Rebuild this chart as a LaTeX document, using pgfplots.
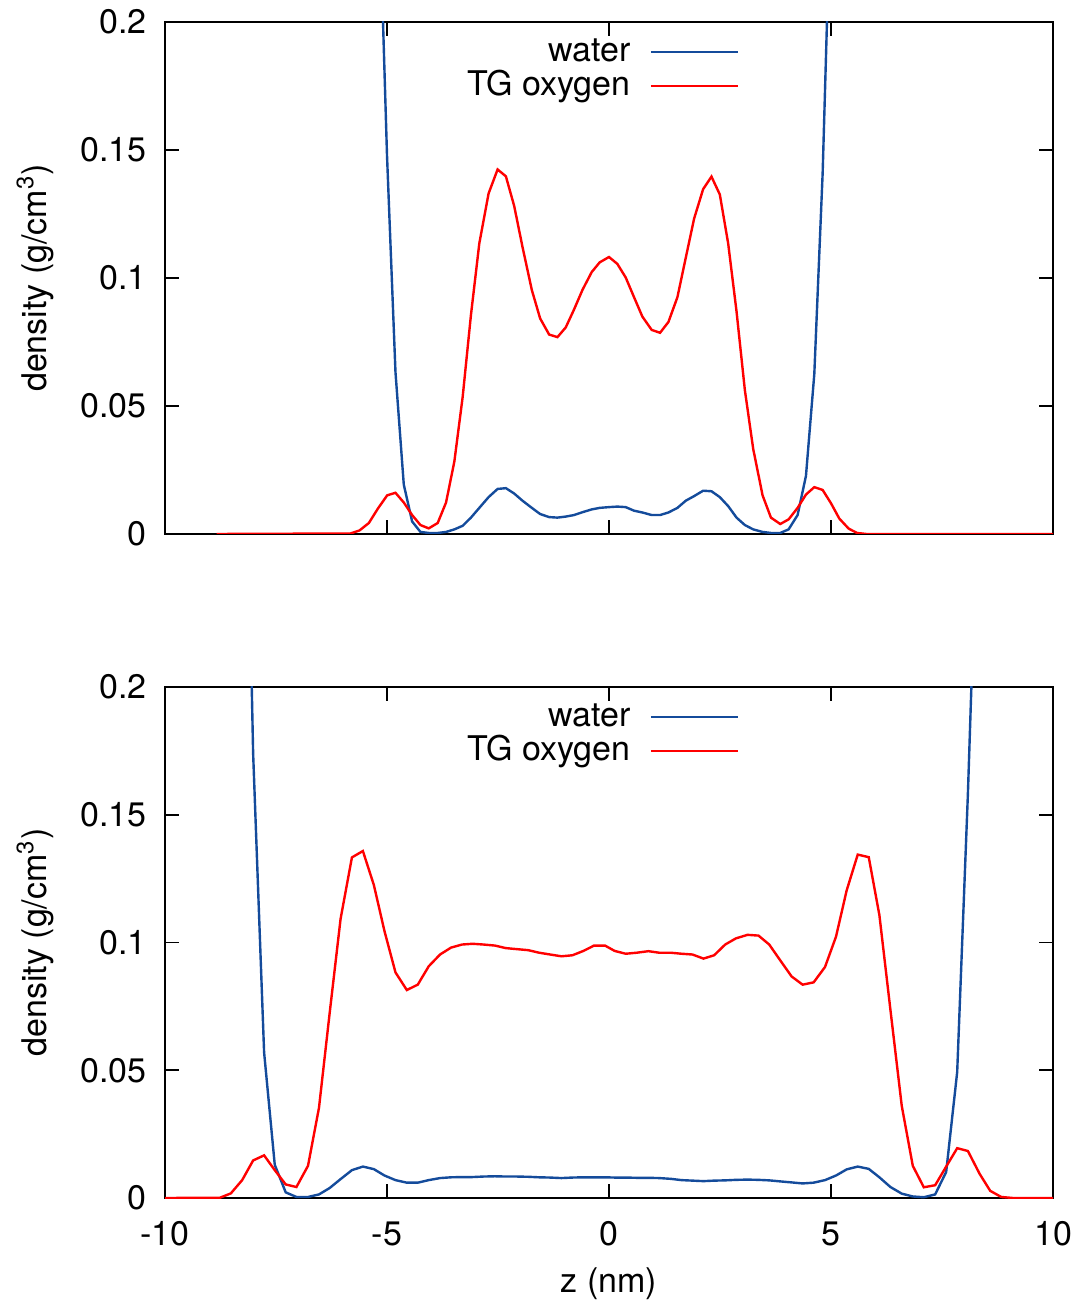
\documentclass[border=0pt]{standalone}
\usepackage{fontspec}
\setmainfont{TeX Gyre Heros}
\usepackage{pgfplots}
\usepackage{pgfplotstable}
\pgfplotsset{compat=1.18}
\definecolor{wblue}{RGB}{20,75,155}
\definecolor{tgred}{RGB}{255,0,0}

\pgfplotstableread{
x y
-8.84 0
-5.82 0.0002
-5.618 0.0014
-5.408 0.0043
-5.206 0.0099
-4.996 0.0151
-4.809 0.0161
-4.622 0.0123
-4.434 0.0074
-4.247 0.0035
-4.060 0.0022
-3.858 0.0043
-3.670 0.0123
-3.483 0.0283
-3.296 0.0535
-3.109 0.0856
-2.921 0.1135
-2.712 0.1330
-2.509 0.1424
-2.322 0.1397
-2.135 0.1281
-1.948 0.1121
-1.738 0.0953
-1.551 0.0842
-1.348 0.0779
-1.161 0.0769
-0.974 0.0807
-0.787 0.0877
-0.599 0.0953
-0.390 0.1023
-0.210 0.1061
0.000 0.1082
0.188 0.1055
0.376 0.1002
0.564 0.0925
0.752 0.0849
0.962 0.0797
1.150 0.0786
1.338 0.0828
1.541 0.0925
1.729 0.1079
1.917 0.1232
2.120 0.1347
2.308 0.1396
2.496 0.1326
2.684 0.1135
2.872 0.0870
3.060 0.0562
3.248 0.0332
3.459 0.0151
3.647 0.0064
3.857 0.0039
4.045 0.0057
4.248 0.0102
4.436 0.0154
4.624 0.0183
4.812 0.0172
5.000 0.0120
5.188 0.0060
5.398 0.0021
5.586 0.0004
5.8 0
10 0
}\topred

\pgfplotstableread{
x y
-10 1.0
-5.6 1.0
-5.4 0.6
-5.19 0.258
-5.0 0.148
-4.809 0.0632
-4.622 0.0193
-4.434 0.0049
-4.247 0.0008
-4.060 0.0004
-3.858 0.0004
-3.670 0.0008
-3.483 0.0018
-3.296 0.0032
-3.109 0.0064
-2.921 0.0102
-2.712 0.0144
-2.509 0.0176
-2.322 0.0179
-2.135 0.0158
-1.948 0.0130
-1.738 0.0102
-1.551 0.0078
-1.348 0.0066
-1.161 0.0064
-0.974 0.0068
-0.787 0.0074
-0.599 0.0085
-0.390 0.0096
-0.210 0.0102
0.000 0.0105
0.188 0.0107
0.376 0.0105
0.564 0.0091
0.752 0.0084
0.962 0.0074
1.150 0.0074
1.338 0.0084
1.541 0.0102
1.729 0.0130
1.917 0.0148
2.120 0.0169
2.308 0.0167
2.496 0.0144
2.684 0.0109
2.872 0.0064
3.060 0.0035
3.248 0.0018
3.459 0.0008
3.647 0.0004
3.857 0.0004
4.045 0.0018
4.248 0.0074
4.436 0.0227
4.624 0.0625
4.812 0.141
5.0 0.255
5.2 0.6
5.4 1.0
10 1.0
}\topblue

\pgfplotstableread{
x y
-10 0
-8.764 0.0001
-8.517 0.0018
-8.262 0.0070
-8.015 0.0147
-7.768 0.0167
-7.528 0.0109
-7.281 0.0053
-7.040 0.0043
-6.779 0.0126
-6.532 0.0353
-6.292 0.0723
-6.045 0.1093
-5.790 0.1333
-5.543 0.1358
-5.296 0.1225
-5.056 0.1044
-4.809 0.0883
-4.554 0.0814
-4.307 0.0835
-4.060 0.0907
-3.805 0.0953
-3.558 0.0980
-3.311 0.0992
-3.071 0.0995
-2.824 0.0992
-2.570 0.0988
-2.322 0.0978
-2.075 0.0974
-1.820 0.0970
-1.573 0.0960
-1.326 0.0953
-1.071 0.0946
-0.824 0.0950
-0.577 0.0967
-0.337 0.0988
-0.090 0.0988
0.128 0.0967
0.376 0.0956
0.624 0.0960
0.887 0.0966
1.128 0.0960
1.391 0.0960
1.632 0.0956
1.880 0.0953
2.128 0.0937
2.368 0.0950
2.617 0.0992
2.857 0.1016
3.120 0.1030
3.368 0.1027
3.609 0.0992
3.857 0.0930
4.113 0.0867
4.361 0.0835
4.609 0.0844
4.865 0.0904
5.113 0.1023
5.353 0.1204
5.602 0.1344
5.850 0.1334
6.090 0.1107
6.338 0.0737
6.594 0.0360
6.842 0.0126
7.090 0.0042
7.346 0.0050
7.594 0.0123
7.842 0.0195
8.083 0.0184
8.346 0.0095
8.586 0.0028
8.835 0.0004
9.1 0
10 0
}\botred

\pgfplotstableread{
x y
-10 1.0
-8.6 1.0
-8.262 0.38
-8.015 0.174
-7.768 0.057
-7.528 0.0130
-7.281 0.0022
-7.040 0.0004
-6.779 0.0004
-6.532 0.0014
-6.292 0.0039
-6.045 0.0074
-5.790 0.0109
-5.543 0.0123
-5.296 0.0113
-5.056 0.0088
-4.809 0.0070
-4.554 0.0060
-4.307 0.0060
-4.060 0.0070
-3.805 0.0078
-3.558 0.0081
-3.311 0.0082
-3.071 0.0082
-2.824 0.0084
-2.570 0.0085
-2.322 0.0084
-2.075 0.0084
-1.820 0.0083
-1.573 0.0081
-1.326 0.0080
-1.071 0.0078
-0.824 0.0080
-0.577 0.0081
-0.337 0.0081
-0.090 0.0081
0.128 0.0080
0.376 0.0080
0.624 0.0079
0.887 0.0079
1.128 0.0078
1.391 0.0075
1.632 0.0070
1.880 0.0068
2.128 0.0066
2.368 0.0068
2.617 0.0069
2.857 0.0071
3.120 0.0072
3.368 0.0071
3.609 0.0069
3.857 0.0065
4.113 0.0061
4.361 0.0057
4.609 0.0060
4.865 0.0070
5.113 0.0088
5.353 0.0112
5.602 0.0123
5.850 0.0114
6.090 0.0081
6.338 0.0043
6.594 0.0017
6.842 0.0006
7.090 0.0003
7.346 0.0014
7.594 0.0102
7.842 0.0493
8.083 0.158
8.33 0.29
8.6 1.0
10 1.0
}\botblue

\pgfplotsset{
  gp/.style={
    scale only axis,
    width=444pt,
    xmin=-10, xmax=10, ymin=0, ymax=0.2,
    xtick={-10,-5,0,5,10},
    ytick={0,0.05,0.1,0.15,0.2},
    yticklabels={0,0.05,0.1,0.15,0.2},
    tick align=inside,
    major tick length=7pt,
    axis line style={line width=1.25pt},
    every tick/.style={black, line width=0.8pt},
    yticklabel style={xshift=-3.3pt},
    ylabel={density (g/cm\textsuperscript{3})},
    ylabel style={at={(axis description cs:-0.1464,0.5)}, anchor=center},
    legend plot pos=right,
    legend cell align=right,
    legend image code/.code={\draw[#1] (0pt,0pt) -- (43.5pt,0pt);},
    legend style={at={(axis description cs:0.6464,0.9727)}, anchor=north east,
      draw=none, fill=none, inner sep=0pt, outer sep=0pt,
      nodes={inner sep=0pt, text height=13pt, text depth=3pt},
      row sep=1pt, column sep=9.5pt},
  },
  wline/.style={color=wblue, line width=1.2pt},
  rline/.style={color=tgred, line width=1.2pt},
}

\begin{document}
\fontsize{17}{20}\selectfont
\begin{tikzpicture}
\path[use as bounding box] (0,0) rectangle (540pt,653pt);
\begin{axis}[gp, at={(82.5pt,386pt)}, anchor=south west, height=256pt,
  xticklabels={}]
\addplot[wline] table[x=x,y=y] {\topblue};
\addlegendentry{water}
\addplot[rline] table[x=x,y=y] {\topred};
\addlegendentry{TG oxygen}
\end{axis}
\begin{axis}[gp, at={(82.5pt,54pt)}, anchor=south west, height=255.5pt,
  xticklabels={-10,-5,0,5,10},
  xticklabel style={yshift=-6pt},
  xlabel={z (nm)},
  xlabel style={at={(axis description cs:0.5,0)}, anchor=center, yshift=-43pt}]
\addplot[wline] table[x=x,y=y] {\botblue};
\addlegendentry{water}
\addplot[rline] table[x=x,y=y] {\botred};
\addlegendentry{TG oxygen}
\end{axis}
\end{tikzpicture}
\end{document}
